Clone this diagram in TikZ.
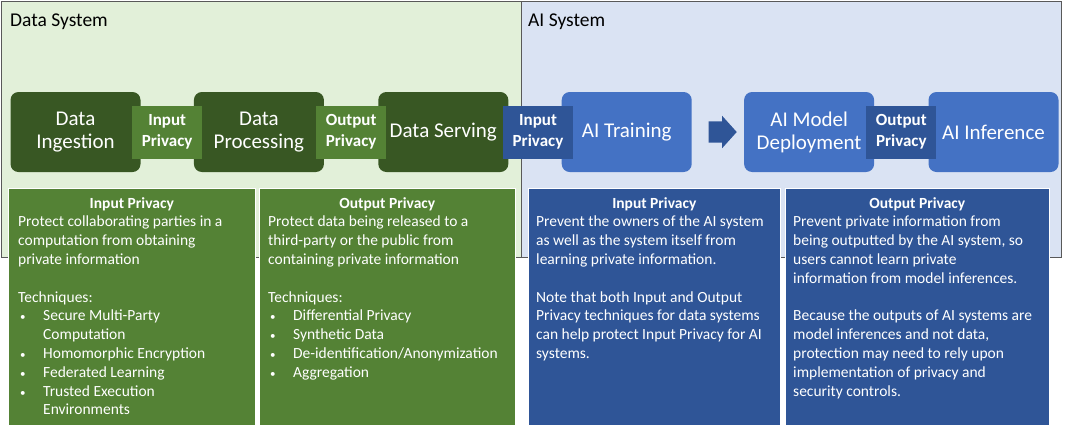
\documentclass[tikz,border=0pt]{standalone}
\usepackage{fontspec}
\setmainfont{Carlito}
\usetikzlibrary{positioning,calc,shapes.arrows}

\definecolor{bggreen}{HTML}{E2F0D9}
\definecolor{bgblue}{HTML}{DAE3F3}
\definecolor{dkgreen}{HTML}{385723}
\definecolor{mdgreen}{HTML}{548235}
\definecolor{mdblue}{HTML}{4472C4}
\definecolor{dkblue}{HTML}{2F5597}
\definecolor{framegray}{HTML}{595959}

\newcommand{\bul}[1]{\hspace*{2pt}\makebox[23pt][l]{\fontsize{11}{11}\selectfont•}#1}
\newcommand{\cont}[1]{\hspace*{25pt}#1}

\begin{document}
\begin{tikzpicture}[x=1pt, y=-1pt,
	stage/.style={rounded corners=8pt, minimum width=130pt, minimum height=80pt, inner sep=0pt, text=white, align=center, font=\fontsize{21}{23}\selectfont},
	tag/.style={minimum width=70pt, minimum height=53pt, inner sep=0pt, text=white, align=center, font=\bfseries\fontsize{17}{20.7}\selectfont},
	panel/.style={draw=white, line width=0.6pt, anchor=north west, inner sep=0pt, minimum height=237pt},
	head/.style={anchor=base, inner sep=0pt, text=white, font=\bfseries\fontsize{15.5}{18.8}\selectfont},
	body/.style={anchor=north west, inner sep=0pt, text=white, align=left, font=\fontsize{15.5}{18.8}\selectfont},
	sys/.style={anchor=base west, inner sep=0pt, font=\fontsize{19.5}{22}\selectfont}]
\useasboundingbox (0,0) rectangle (1065,429);
% system backgrounds
\fill[bggreen] (1,1) rectangle (521,257);
\fill[bgblue] (521,1) rectangle (1061,257);
\draw[framegray, line width=0.8pt] (1,1) rectangle (1061,257) (521,1) -- (521,257);
\node[sys] (datasys) at (10,26) {Data System};
\node[sys] (aisys) at (528,26) {AI System};

\node[stage, fill=dkgreen] (ingest) at (75.5,132) {Data\\Ingestion};
\node[stage, fill=dkgreen, right=53pt of ingest] (process) {Data\\Processing};
\node[stage, fill=dkgreen, right=54pt of process] (serve) {Data Serving};
\node[stage, fill=mdblue, right=53pt of serve] (train) {AI Training};
\node[stage, fill=mdblue, right=52pt of train] (deploy) {AI Model\\Deployment};
\node[stage, fill=mdblue, right=54pt of deploy] (infer) {AI Inference};

\node[tag, fill=mdgreen] (ingestin) at ($(ingest.east)!0.5!(process.west)$) {Input\\Privacy};
\node[tag, fill=mdgreen] (processout) at ($(process.east)!0.5!(serve.west)$) {Output\\Privacy};
\node[tag, fill=dkblue] (trainin) at ($(serve.east)!0.5!(train.west)+(3,0)$) {Input\\Privacy};
\node[tag, fill=dkblue] (deployout) at ($(deploy.east)!0.5!(infer.west)$) {Output\\Privacy};
\node[single arrow, fill=dkblue, inner sep=0pt, text height=10.5pt, text depth=10.5pt, minimum height=28pt,
	single arrow head extend=5.5pt, single arrow tip angle=96] (step) at ($(train.east)!0.5!(deploy.west)$) {};

% privacy panels
\node[panel, fill=mdgreen, minimum width=247pt] (dsin) at (8,188) {};
\node[panel, fill=mdgreen, minimum width=256pt] (dsout) at (259,188) {};
\node[panel, fill=dkblue, minimum width=252pt] (aiin) at (528,188) {};
\node[panel, fill=dkblue, minimum width=264pt] (aiout) at (785,188) {};

\node[head] (dsinhead) at ([yshift=-20pt]dsin.north) {Input Privacy};
\node[head] (dsouthead) at ([yshift=-20pt]dsout.north) {Output Privacy};
\node[head] (aiinhead) at ([yshift=-20pt]aiin.north) {Input Privacy};
\node[head] (aiouthead) at ([yshift=-20pt]aiout.north) {Output Privacy};

\node[body] (dsintext) at ([xshift=10pt,yshift=-28pt]dsin.north west)
	{Protect collaborating parties in a\\ computation from obtaining\\ private information\\[18.8pt]
	Techniques:\\ \bul{Secure Multi-Party}\\ \cont{Computation}\\ \bul{Homomorphic Encryption}\\
	\bul{Federated Learning}\\ \bul{Trusted Execution}\\ \cont{Environments}};
\node[body] (dsouttext) at ([xshift=9pt,yshift=-28pt]dsout.north west)
	{Protect data being released to a\\ third-party or the public from\\ containing private information\\[18.8pt]
	Techniques:\\ \bul{Differential Privacy}\\ \bul{Synthetic Data}\\ \bul{De-identification/Anonymization}\\ \bul{Aggregation}};
\node[body] (aiintext) at ([xshift=8pt,yshift=-28pt]aiin.north west)
	{Prevent the owners of the AI system\\ as well as the system itself from\\ learning private information.\\[18.8pt]
	Note that both Input and Output\\ Privacy techniques for data systems\\ can help protect Input Privacy for AI\\ systems.};
\node[body] (aiouttext) at ([xshift=8pt,yshift=-28pt]aiout.north west)
	{Prevent private information from\\ being outputted by the AI system, so\\ users cannot learn private\\ information from model inferences.\\[18.8pt]
	Because the outputs of AI systems are\\ model inferences and not data,\\ protection may need to rely upon\\ implementation of privacy and\\ security controls.};
\end{tikzpicture}
\end{document}
